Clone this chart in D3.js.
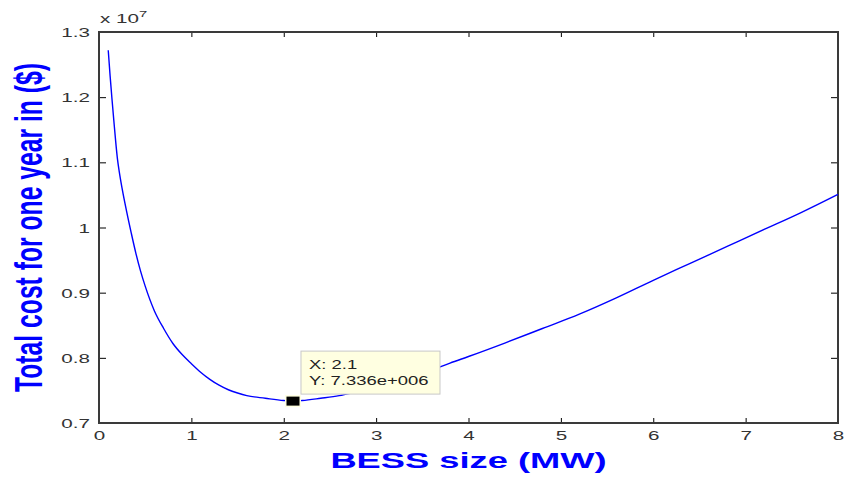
<!DOCTYPE html>
<html>
<head>
<meta charset="utf-8">
<script src="https://cdn.jsdelivr.net/npm/d3@7"></script>
<style>
  html, body { margin: 0; padding: 0; background: #fff; }
  svg { display: block; font-family: "Liberation Sans", Arial, sans-serif; }
</style>
</head>
<body>
<svg id="chart" width="850" height="477"></svg>
<script>
// BESS size (MW)
const bessSize = [0.1, 0.12, 0.14, 0.16, 0.18, 0.2, 0.22, 0.25, 0.3, 0.35, 0.4, 0.45, 0.5,
  0.6, 0.7, 0.8, 0.9, 1.0, 1.1, 1.2, 1.3, 1.4, 1.5, 1.6, 1.8, 2.0, 2.1, 2.2, 2.4,
  2.6, 2.8, 3.0, 3.2, 3.4, 3.6, 3.8, 4.0, 4.4, 4.8, 5.2, 5.6, 6.0, 6.4, 6.8, 7.2,
  7.6, 8.0];
// Total cost for one year, in units of 10^7 $
const totalCost = [1.272, 1.233, 1.198, 1.165, 1.133, 1.105, 1.085, 1.060, 1.024, 0.991, 0.960, 0.933, 0.910,
  0.872, 0.845, 0.822, 0.805, 0.791, 0.778, 0.767, 0.758, 0.751, 0.746, 0.742, 0.738, 0.7345, 0.7336, 0.7345, 0.738,
  0.742, 0.748, 0.754, 0.762, 0.771, 0.781, 0.792, 0.802, 0.823, 0.845, 0.867, 0.892, 0.919, 0.945, 0.971, 0.997,
  1.023, 1.051];

const xTicks = [0, 1, 2, 3, 4, 5, 6, 7, 8];
const yTicks = [0.7, 0.8, 0.9, 1.0, 1.1, 1.2, 1.3];
const yExponent = 7;

// data cursor
const tipX = 2.1;
const tipY = 0.7336;

const svg = d3.select("#chart");
const W = 850, H = 477;
const plot = { left: 99, right: 838, top: 32, bottom: 423 };
const SX = 1.65; // horizontal glyph stretch

svg.append("rect").attr("width", W).attr("height", H).attr("fill", "#fff");

const x = d3.scaleLinear().domain([0, 8]).range([plot.left, plot.right]);
const y = d3.scaleLinear().domain([0.7, 1.3]).range([plot.bottom, plot.top]);

const fmtY = d => d3.format("~g")(+d.toFixed(2));

// frame ticks (inward on all four sides)
const gB = svg.append("g").attr("transform", `translate(0,${plot.bottom})`)
  .call(d3.axisBottom(x).tickValues(xTicks).tickSize(-5).tickPadding(0).tickFormat(d3.format("d")));
const gT = svg.append("g").attr("transform", `translate(0,${plot.top})`)
  .call(d3.axisTop(x).tickValues(xTicks).tickSize(-5).tickFormat(""));
const gL = svg.append("g").attr("transform", `translate(${plot.left},0)`)
  .call(d3.axisLeft(y).tickValues(yTicks).tickSize(-7).tickPadding(0).tickFormat(fmtY));
const gR = svg.append("g").attr("transform", `translate(${plot.right},0)`)
  .call(d3.axisRight(y).tickValues(yTicks).tickSize(-7).tickFormat(""));

[gB, gT, gL, gR].forEach(g => {
  g.select(".domain").remove();
  g.selectAll(".tick line").attr("stroke", "#000").attr("stroke-width", 1);
});

gB.selectAll(".tick text")
  .attr("y", 0).attr("dy", 0)
  .attr("transform", `translate(0,17) scale(${SX},1)`)
  .attr("font-size", 12.5).attr("fill", "#333").attr("text-anchor", "middle");

gL.selectAll(".tick text")
  .attr("x", 0).attr("dy", "0.36em")
  .attr("transform", `translate(-9,0) scale(${SX},1)`)
  .attr("font-size", 12.5).attr("fill", "#333").attr("text-anchor", "end");

// box
svg.append("rect")
  .attr("x", plot.left).attr("y", plot.top)
  .attr("width", plot.right - plot.left).attr("height", plot.bottom - plot.top)
  .attr("fill", "none").attr("stroke", "#3a3a3a").attr("stroke-width", 2);

// exponent label
const expT = svg.append("text")
  .attr("transform", `translate(${plot.left + 1},${plot.top - 9}) scale(${SX},1)`)
  .attr("font-size", 12.5).attr("fill", "#333");
expT.append("tspan").text("x 10");
expT.append("tspan").attr("font-size", 9).attr("dy", -6).text(yExponent);

// cost curve
const pts = bessSize.map((b, i) => [b, totalCost[i]]);
const line = d3.line().x(d => x(d[0])).y(d => y(d[1])).curve(d3.curveMonotoneX);
svg.append("path")
  .datum(pts)
  .attr("d", line)
  .attr("fill", "none")
  .attr("stroke", "#0000ff")
  .attr("stroke-width", 1.4);

// data cursor marker
const mx = x(tipX), my = y(tipY);
svg.append("rect")
  .attr("x", mx - 8).attr("y", my - 6).attr("width", 16).attr("height", 12)
  .attr("fill", "#ffffe1");
svg.append("rect")
  .attr("x", mx - 6.5).attr("y", my - 4.5).attr("width", 13).attr("height", 9)
  .attr("fill", "#000");

// data tip box
const fmtExp = v => {
  const [m, e] = v.toExponential(3).split("e");
  const ev = +e;
  return m + "e" + (ev < 0 ? "-" : "+") + String(Math.abs(ev)).padStart(3, "0");
};
const boxX = mx + 8, boxY = my - 50;
svg.append("rect")
  .attr("x", boxX).attr("y", boxY).attr("width", 139).attr("height", 43)
  .attr("fill", "#ffffe1").attr("stroke", "#c8c8c8").attr("stroke-width", 1);
svg.append("text")
  .attr("transform", `translate(${boxX + 8},${boxY + 18}) scale(1.42,1)`)
  .attr("font-size", 13).attr("fill", "#222")
  .text("X: " + tipX);
svg.append("text")
  .attr("transform", `translate(${boxX + 8},${boxY + 34}) scale(1.42,1)`)
  .attr("font-size", 13).attr("fill", "#222")
  .text("Y: " + fmtExp(tipY * Math.pow(10, yExponent)));

// axis titles
svg.append("text")
  .attr("transform", `translate(${(plot.left + plot.right) / 2},468) scale(${SX},1)`)
  .attr("text-anchor", "middle")
  .attr("font-size", 22).attr("font-weight", "bold").attr("fill", "#0000ff")
  .text("BESS size (MW)");

svg.append("text")
  .attr("transform", `translate(41.5,${(plot.top + plot.bottom) / 2}) scale(${SX},1) rotate(-90)`)
  .attr("text-anchor", "middle")
  .attr("font-size", 23.5).attr("font-weight", "bold").attr("fill", "#0000ff")
  .attr("textLength", 329).attr("lengthAdjust", "spacingAndGlyphs")
  .text("Total cost for one year in ($)");
</script>
</body>
</html>
